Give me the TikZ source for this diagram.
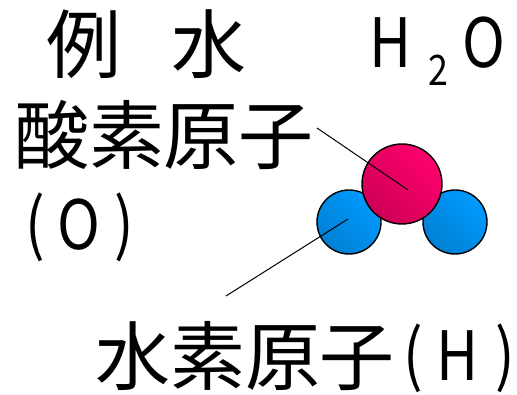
\documentclass[tikz,border=0pt]{standalone}
\usepackage{fontspec}
\setmainfont{Noto Sans CJK JP}
\definecolor{oxygenlight}{RGB}{255,0,110}
\definecolor{oxygendark}{RGB}{205,0,85}
\definecolor{hydrolight}{RGB}{0,155,255}
\definecolor{hydrodark}{RGB}{0,128,210}
\tikzset{
  label/.style={inner sep=0,font=\fontsize{75pt}{75pt}\selectfont},
  latin/.style={inner sep=0,font=\fontsize{68pt}{68pt}\selectfont,xscale=0.85},
  atom/.style={circle,draw=black,line width=1.4pt,inner sep=0,shading angle=-45},
  hydrogen/.style={atom,minimum size=64pt,top color=hydrolight,bottom color=hydrodark,shading angle=-45},
  oxygen/.style={atom,minimum size=80pt,top color=oxygenlight,bottom color=oxygendark,shading angle=-45},
  leader/.style={line width=1pt},
}
\begin{document}
\begin{tikzpicture}[x=1pt,y=-1pt]
  \useasboundingbox[fill=white] (0,0) rectangle (517,395);
  \node[hydrogen] (hleft) at (349,222) {};
  \node[hydrogen] (hright) at (455,222) {};
  \node[oxygen] (oxygen) at (402,184) {};
  % labels
  \node[label] (example) at (84,44) {例};
  \node[label] (water) at (209,44) {水};
  \node[latin] (formh) at (391,43) {H};
  \node[latin,font=\fontsize{42pt}{42pt}\selectfont] (formtwo) at (438,70) {2};
  \node[latin] (formo) at (484,43) {O};
  \node[label] (oxname) at (164,135) {酸素原子};
  \node[latin] (oxopen) at (35,227) {(};
  \node[latin] (oxsym) at (79,225) {O};
  \node[latin] (oxclose) at (124,227) {)};
  \node[label] (hyname) at (245,356) {水素原子};
  \node[latin] (hyopen) at (413,358) {(};
  \node[latin] (hysym) at (458,356) {H};
  \node[latin] (hyclose) at (505,358) {)};
  % leaders
  \coordinate (oxend) at (317,128);
  \coordinate (hyend) at (226,296);
  \coordinate (oxin) at (408,190);
  \coordinate (hyin) at (348,219);
  \draw[leader] (oxend) -- (oxin);
  \draw[leader] (hyend) -- (hyin);
\end{tikzpicture}
\end{document}
